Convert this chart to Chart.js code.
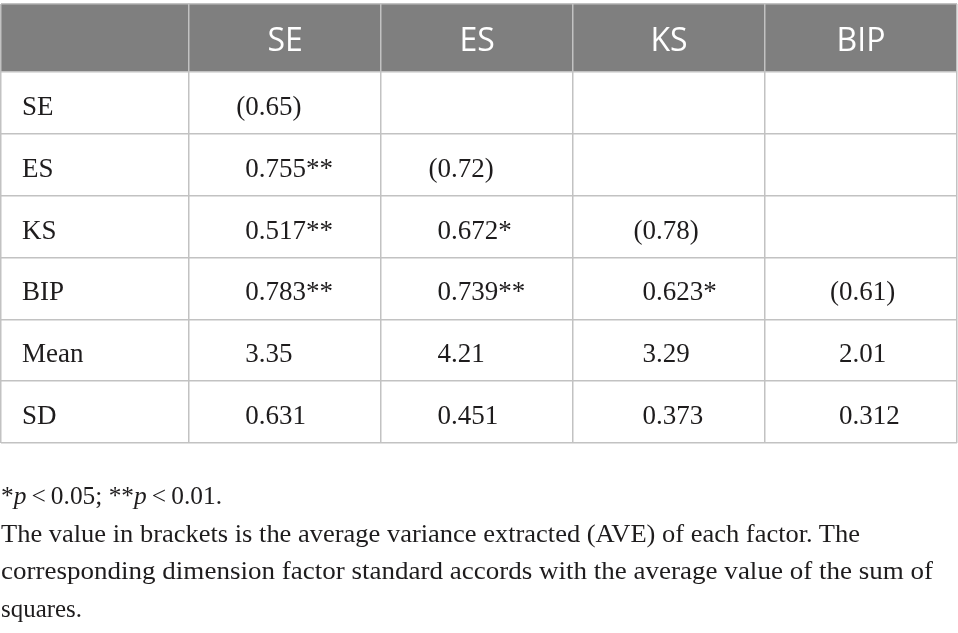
<!DOCTYPE html>
<html>
<head>
<meta charset="utf-8">
<script src="https://cdn.jsdelivr.net/npm/chart.js@4.4.1/dist/chart.umd.min.js"></script>
<style>
  html, body { margin: 0; padding: 0; background: #fff; }
  #wrap { position: relative; width: 958px; height: 633px; overflow: hidden; }
  #table { position: absolute; left: 0; top: 0; width: 958px; height: 633px; }
  .note {
    position: absolute; left: 1px;
    font: 24.5px/37.5px "Liberation Serif", serif;
    color: #1e1c1d; white-space: nowrap; transform-origin: 0 0;
  }
</style>
</head>
<body>
<div id="wrap">
  <canvas id="table" width="958" height="633"></canvas>
  <div class="note" style="top:477px">*<i>p</i>&#8201;&lt;&#8201;0.05; **<i>p</i>&#8201;&lt;&#8201;0.01.</div>
  <div class="note" style="top:515px">The value in brackets is the average variance extracted (AVE) of each factor. The</div>
  <div class="note" style="top:552px">corresponding dimension factor standard accords with the average value of the sum of</div>
  <div class="note" style="top:590px">squares.</div>
</div>
<script>
const columns = ['SE', 'ES', 'KS', 'BIP']
const rows = ['SE', 'ES', 'KS', 'BIP', 'Mean', 'SD']
const seValues = ['(0.65)', '0.755**', '0.517**', '0.783**', '3.35', '0.631']
const esValues = ['', '(0.72)', '0.672*', '0.739**', '4.21', '0.451']
const ksValues = ['', '', '(0.78)', '0.623*', '3.29', '0.373']
const bipValues = ['', '', '', '(0.61)', '2.01', '0.312']

const columnValues = [seValues, esValues, ksValues, bipValues]

// where the digits start, counted from the left rule of each column
const indent = [56, 56.5, 69.5, 74]
const LABEL_MIN = -0.98   // first (row label) column
const HEAD_MIN = -1.1     // header row is a bit taller
const RULE = '#c2c2c2'
const INK = '#1e1c1d'

const datasets = columns.map((col, c) => ({
  label: col,
  data: columnValues[c]
    .map((text, r) => ({ x: c + 0.5, y: r + 0.5, text }))
    .filter(p => p.text !== ''),
  pointRadius: 0,
  pointHoverRadius: 0
}))

const fixedTicks = values => scale => {
  scale.ticks = values.map(value => ({ value }))
}

const tablePlugin = {
  id: 'table',
  beforeDraw(chart) {
    const { ctx, scales: { x, y } } = chart
    const top = y.getPixelForValue(HEAD_MIN)
    const bottom = y.getPixelForValue(0)
    const left = x.getPixelForValue(LABEL_MIN)
    const right = x.getPixelForValue(4)
    ctx.save()
    ctx.fillStyle = '#7f7f7f'
    ctx.fillRect(left, top, right - left, bottom - top)
    ctx.restore()
  },
  afterDatasetsDraw(chart) {
    const { ctx, scales: { x, y } } = chart
    ctx.save()

    // header
    const headMid = (y.getPixelForValue(HEAD_MIN) + y.getPixelForValue(0)) / 2
    ctx.fillStyle = '#ffffff'
    ctx.font = '32px "Open Sans"'
    ctx.textAlign = 'center'
    ctx.textBaseline = 'alphabetic'
    columns.forEach((col, c) => {
      const cx = (x.getPixelForValue(c) + x.getPixelForValue(c + 1)) / 2
      ctx.fillText(col, cx, headMid + 13)
    })

    // row labels
    ctx.fillStyle = INK
    ctx.font = '27px "Liberation Serif"'
    ctx.textAlign = 'left'
    rows.forEach((row, r) => {
      ctx.fillText(row, x.getPixelForValue(LABEL_MIN) + 21, y.getPixelForValue(r + 0.5) + 12)
    })

    // cells
    columns.forEach((col, c) => {
      const meta = chart.getDatasetMeta(c)
      meta.data.forEach((el, i) => {
        const text = datasets[c].data[i].text
        const left = x.getPixelForValue(c) + indent[c]
        const base = el.y + 12
        if (text.startsWith('(')) {
          ctx.textAlign = 'right'
          ctx.fillText('(', left, base)
          ctx.textAlign = 'left'
          ctx.fillText(text.slice(1), left, base)
        } else {
          ctx.textAlign = 'left'
          ctx.fillText(text, left, base)
        }
      })
    })
    ctx.restore()
  }
}

new Chart(document.getElementById('table'), {
  type: 'scatter',
  data: { datasets },
  options: {
    responsive: false,
    animation: false,
    events: [],
    layout: { padding: { left: 1, right: 1, top: 4, bottom: 190 } },
    plugins: {
      legend: { display: false },
      tooltip: { enabled: false }
    },
    scales: {
      x: {
        type: 'linear',
        min: LABEL_MIN,
        max: 4,
        afterBuildTicks: fixedTicks([LABEL_MIN, 0, 1, 2, 3, 4]),
        ticks: { display: false },
        grid: { color: RULE, lineWidth: 1.5, drawTicks: false },
        border: { display: false }
      },
      y: {
        type: 'linear',
        reverse: true,
        min: HEAD_MIN,
        max: 6,
        afterBuildTicks: fixedTicks([HEAD_MIN, 0, 1, 2, 3, 4, 5, 6]),
        ticks: { display: false },
        grid: { color: RULE, lineWidth: 1.5, drawTicks: false },
        border: { display: false }
      }
    }
  },
  plugins: [tablePlugin]
})

// squeeze the footnote lines to the widths they have in the source
const noteWidths = [221, 859, 932, 81]
document.querySelectorAll('.note').forEach((el, i) => {
  const w = el.getBoundingClientRect().width
  el.style.transform = `scaleX(${noteWidths[i] / w})`
})
</script>
</body>
</html>
